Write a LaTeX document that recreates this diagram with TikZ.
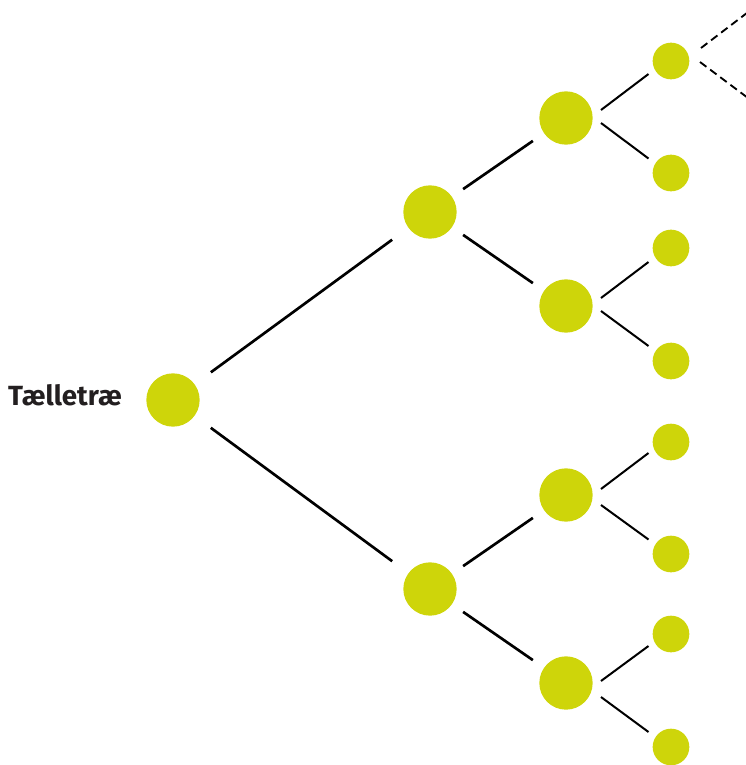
\documentclass[tikz,border=0pt]{standalone}
\usepackage{fontspec}
\setmainfont{Fira Sans}
\usetikzlibrary{calc}
\usetikzlibrary{positioning}
\definecolor{treegreen}{RGB}{206,213,10}
\definecolor{textblack}{RGB}{35,31,32}

\begin{document}
\begin{tikzpicture}[x=0.75pt,y=0.75pt,yscale=-1,xscale=1]
  \clip (0,0) rectangle (746,765); %diagram is 746 wide and 765 high
 \tikzstyle{bigdot} = [circle,fill=treegreen,inner sep=0pt,minimum size=40pt]
 \tikzstyle{smalldot} = [circle,fill=treegreen,inner sep=0pt,minimum size=27.5pt]
 \tikzstyle{branch} = [line width=2pt,shorten <=15pt,shorten >=15pt]
 \tikzstyle{twig} = [line width=1.5pt]
 \tikzstyle{more} = [line width=1.4pt,dash pattern=on 6pt off 3.5pt]

  %Draw the root and the two big branches
\node [bigdot] (root) at (173,400) {};
\node [bigdot] (a) at (430,212) {};
\node [bigdot] (b) at (430,589) {};
  %Draw the third level
\node [bigdot] (aa) at (566,118) {};
\node [bigdot] (ab) at (566,306) {};
\node [bigdot] (ba) at (566,495) {};
\node [bigdot] (bb) at (566,683) {};
  %Draw the leaves
\node [smalldot] (aaa) at (671,61) {};
\node [smalldot] (aab) at (671,173) {};
\node [smalldot] (aba) at (671,248) {};
\node [smalldot] (abb) at (671,361) {};
\node [smalldot] (baa) at (671,442) {};
\node [smalldot] (bab) at (671,554) {};
\node [smalldot] (bba) at (671,634) {};
\node [smalldot] (bbb) at (671,747) {};
  %Draw lines
  \draw [branch] (root) -- (a);
  \draw [branch] (root) -- (b);
  \draw [branch,shorten <=10pt,shorten >=10pt] (a) -- (aa);
  \draw [branch,shorten <=10pt,shorten >=10pt] (a) -- (ab);
  \draw [branch,shorten <=10pt,shorten >=10pt] (b) -- (ba);
  \draw [branch,shorten <=10pt,shorten >=10pt] (b) -- (bb);
  \draw [twig] ($(aa)+(35,-8)$) -- ($(aaa)+(-22.5,13)$);
  \draw [twig] ($(aa)+(35,5)$) -- ($(aab)+(-22.5,-14.5)$);
  \draw [twig] ($(ab)+(35,-8)$) -- ($(aba)+(-22.5,14)$);
  \draw [twig] ($(ab)+(35,5)$) -- ($(abb)+(-22.5,-15)$);
  \draw [twig] ($(ba)+(35,-6)$) -- ($(baa)+(-22.5,11)$);
  \draw [twig] ($(ba)+(35,10)$) -- ($(bab)+(-22.5,-14.5)$);
  \draw [twig] ($(bb)+(35,-2)$) -- ($(bba)+(-22.5,12)$);
  \draw [twig] ($(bb)+(35,14)$) -- ($(bbb)+(-22.5,-15)$);
  %Tree goes on past the edge
  \coordinate (upend) at (760,3);
  \coordinate (downend) at (760,107);
  \draw [more] ($(aaa)+(30,-13)$) -- (upend);
  \draw [more] ($(aaa)+(29,1)$) -- (downend);
  %Labelling
  \node [anchor=base east,inner sep=0pt,text=textblack,font=\bfseries\fontsize{20.8}{20.8}\selectfont] (title) at (122,405.5) {Tælletræ};

  \end{tikzpicture}
\end{document}
